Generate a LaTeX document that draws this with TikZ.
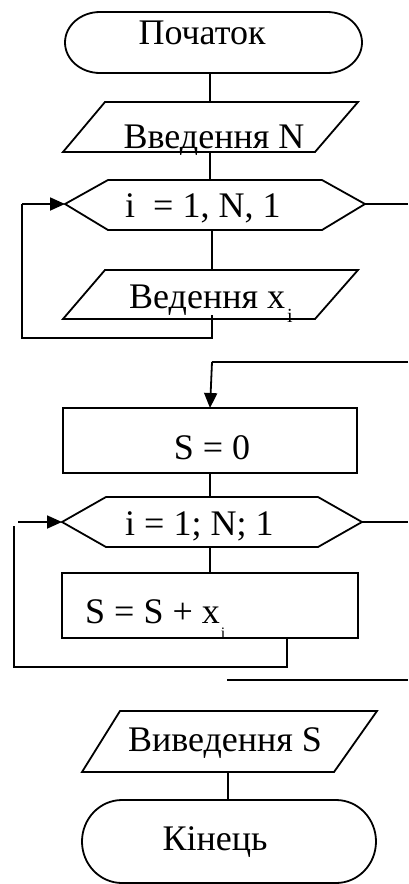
\documentclass[tikz,border=0pt]{standalone}
\usepackage{fontspec}
\setmainfont{Liberation Serif}
\usetikzlibrary{arrows.meta}
\begin{document}
\begin{tikzpicture}[x=1pt,y=-1pt,
  shp/.style={draw=black,line width=1.8pt,line join=miter},
  conn/.style={draw=black,line width=1.8pt},
  arr/.style={conn,-{Triangle[length=15pt,width=13pt]}},
  lbl/.style={inner sep=0pt,font=\fontsize{36}{40}\selectfont}]
\useasboundingbox (0,0) rectangle (408,884);
\fill[white] (0,0) rectangle (408,884);

% --- start terminator
\draw[shp] (100,12) -- (327,12) arc[start angle=-90,end angle=90,x radius=35,y radius=30.5]
  -- (100,73) arc[start angle=90,end angle=270,x radius=35,y radius=30.5] -- cycle;
\node[lbl,anchor=base] (tstart) at (202,44) {Початок};
\coordinate (startB) at (210,73);

% --- input N
\draw[shp] (105,102) -- (358,102) -- (315,152) -- (63,152) -- cycle;
\node[lbl,anchor=base] (tin1) at (214,148) {Введення N};
\coordinate (in1T) at (210,102);
\coordinate (in1B) at (210,152);

% --- loop 1 hexagon
\draw[shp] (65,204) -- (108,180) -- (322,180) -- (365,204) -- (322,230) -- (108,230) -- cycle;
\node[lbl,anchor=base west] (thex1) at (125,217) {i\ \ = 1, N, 1};
\coordinate (h1T) at (210,180);
\coordinate (h1B) at (212,230);
\coordinate (h1L) at (65,204);
\coordinate (h1R) at (365,204);
\coordinate (h1Rend) at (408,204);

% --- input x_i
\draw[shp] (105,270) -- (358,270) -- (315,319) -- (63,319) -- cycle;
\node[lbl,anchor=base west] (tin2) at (129,308) {Ведення x\hspace{2pt}\raisebox{-14pt}{\fontsize{20}{20}\selectfont i}};
\coordinate (in2T) at (212,270);
\coordinate (lp1a) at (212,315);
\coordinate (lp1b) at (212,338);
\coordinate (lp1c) at (22,338);
\coordinate (lp1d) at (22,204);

% --- S = 0
\draw[shp] (63,408) rectangle (357,473);
\node[lbl,anchor=base] (ts0) at (212,459) {S = 0};
\coordinate (s0T) at (210,408);
\coordinate (s0B) at (210,473);
\coordinate (j1R) at (408,362);
\coordinate (j1L) at (212,362);

% --- loop 2 hexagon
\draw[shp] (62,522) -- (106,497) -- (318,497) -- (362,522) -- (318,547) -- (106,547) -- cycle;
\node[lbl,anchor=base west] (thex2) at (125,535) {i = 1; N; 1};
\coordinate (h2T) at (210,497);
\coordinate (h2B) at (210,547);
\coordinate (h2L) at (62,522);
\coordinate (h2R) at (362,522);
\coordinate (h2Rend) at (408,522);
\coordinate (lp2s) at (18,522);

% --- S = S + x_i
\draw[shp] (62,573) rectangle (358,638);
\node[lbl,anchor=base west] (tsum) at (85,623) {S = S + x\hspace{1pt}\raisebox{-15pt}{\fontsize{16}{16}\selectfont i}};
\coordinate (sumT) at (210,573);
\coordinate (lp2a) at (287,638);
\coordinate (lp2b) at (287,667);
\coordinate (lp2c) at (14,667);
\coordinate (lp2d) at (14,526);
\coordinate (j2L) at (227,680);
\coordinate (j2R) at (408,680);

% --- output S
\draw[shp] (120,711) -- (377,711) -- (334,772) -- (82,772) -- cycle;
\node[lbl,anchor=base] (tout) at (225,751) {Виведення S};
\coordinate (outB) at (228,772);

% --- end terminator
\draw[shp] (122,800) -- (336,800) arc[start angle=-90,end angle=90,x radius=40,y radius=41.5]
  -- (122,883) arc[start angle=90,end angle=270,x radius=40,y radius=41.5] -- cycle;
\node[lbl,anchor=base] (tend) at (215,850) {Кінець};
\coordinate (endT) at (228,800);

% --- connectors
\draw[conn] (startB) -- (in1T);
\draw[conn] (in1B) -- (h1T);
\draw[conn] (h1B) -- (in2T);
\draw[conn] (h1R) -- (h1Rend);
\draw[conn] (lp1a) -- (lp1b) -- (lp1c) -- (lp1d);
\draw[arr] (lp1d) -- (h1L);
\draw[conn] (j1R) -- (j1L);
\draw[arr] (j1L) -- (s0T);
\draw[conn] (s0B) -- (h2T);
\draw[conn] (h2B) -- (sumT);
\draw[conn] (h2R) -- (h2Rend);
\draw[arr] (lp2s) -- (h2L);
\draw[conn] (lp2a) -- (lp2b) -- (lp2c) -- (lp2d);
\draw[conn] (j2L) -- (j2R);
\draw[conn] (outB) -- (endT);
\end{tikzpicture}
\end{document}
